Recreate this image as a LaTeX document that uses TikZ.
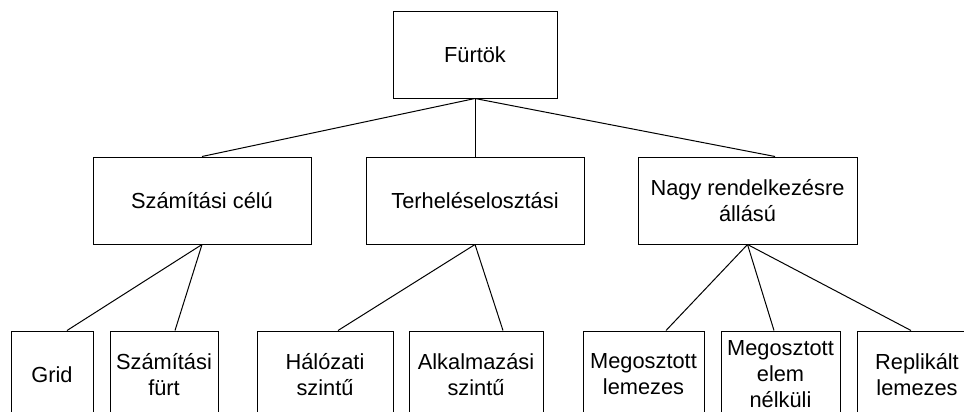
\documentclass[tikz,border=0pt]{standalone}
\usepackage{fontspec}
\setmainfont{Liberation Sans}
\begin{document}
\begin{tikzpicture}[x=1pt,y=-1pt,
  box/.style={draw,line width=1pt,rectangle,inner sep=0pt,align=center,
    font=\fontsize{21.8}{26}\selectfont},
  link/.style={line width=1pt}]
\useasboundingbox (0,0) rectangle (964,412);
\clip (0,0) rectangle (964,412);
% root
\node[box,minimum width=164,minimum height=86] (root) at (475,55) {Fürtök};
% second level
\node[box,minimum width=218,minimum height=87] (szam) at (202,200.5) {Számítási célú};
\node[box,minimum width=218,minimum height=87] (terh) at (475,200.5) {Terheléselosztási};
\node[box,minimum width=219,minimum height=87] (nagy) at (747.5,200.5) {Nagy rendelkezésre\\állású};
% leaves
\node[box,minimum width=82,minimum height=87] (grid) at (52,374.5) {Grid};
\node[box,minimum width=108,minimum height=87] (szfurt) at (164,374.5) {Számítási\\fürt};
\node[box,minimum width=136,minimum height=87] (halo) at (325,374.5) {Hálózati\\szintű};
\node[box,minimum width=134,minimum height=87] (alk) at (476,374.5) {Alkalmazási\\szintű};
\node[box,minimum width=121,minimum height=87] (mlem) at (643.5,374.5) {Megosztott\\lemezes};
\node[box,minimum width=119,minimum height=87] (melem) at (780.5,374.5) {Megosztott\\elem\\nélküli};
\node[box,minimum width=120,minimum height=87] (repl) at (917,374.5) {Replikált\\lemezes};
% connectors
\draw[link] (root.south) -- (szam.north);
\draw[link] (root.south) -- (terh.north);
\draw[link] (root.south) -- ([xshift=27.5]nagy.north);
\draw[link] (szam.south) -- ([xshift=15]grid.north);
\draw[link] (szam.south) -- ([xshift=11]szfurt.north);
\draw[link] (terh.south) -- ([xshift=13]halo.north);
\draw[link] (terh.south) -- ([xshift=27]alk.north);
\draw[link] (nagy.south) -- ([xshift=22.5]mlem.north);
\draw[link] (nagy.south) -- ([xshift=-6.5]melem.north);
\draw[link] (nagy.south) -- ([xshift=-6]repl.north);
\end{tikzpicture}
\end{document}
